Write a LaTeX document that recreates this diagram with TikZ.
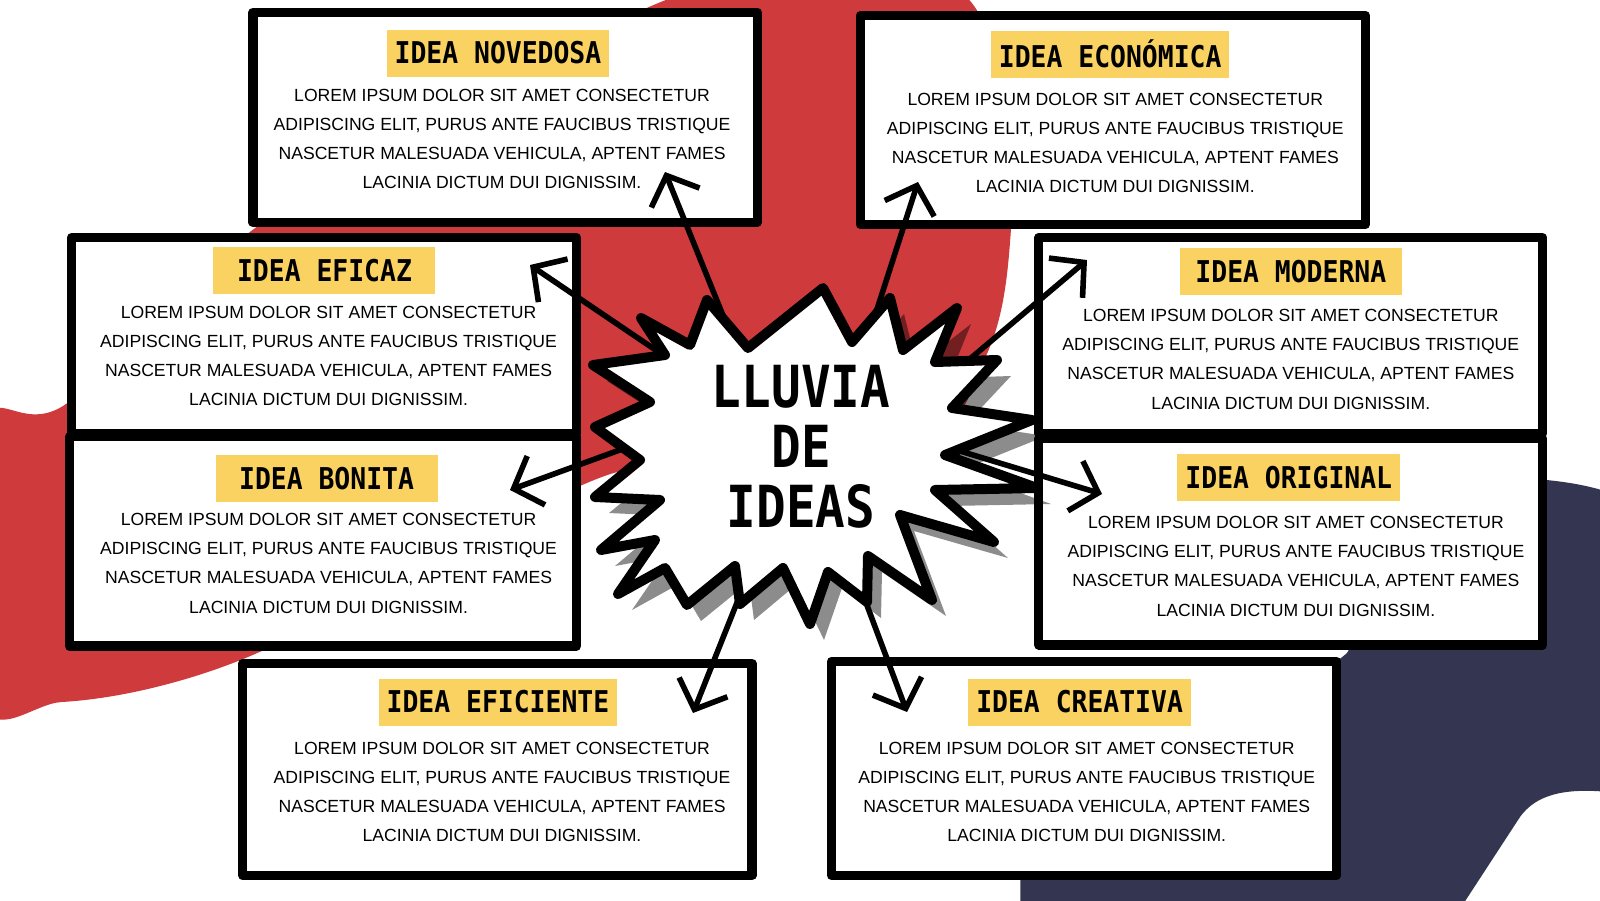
\documentclass[tikz,border=0pt]{standalone}
\usepackage{fontspec}
\setmainfont{Liberation Sans}
\newfontfamily\titlefont{DejaVu Sans Mono}[FakeStretch=0.88]
\newfontfamily\bigfont{DejaVu Sans Mono}[FakeStretch=0.85]
\usetikzlibrary{arrows.meta}
\definecolor{bgred}{HTML}{CF3A3C}
\definecolor{bgnavy}{HTML}{343550}
\definecolor{hl}{HTML}{F9D262}
\newcommand\lorembody{LOREM IPSUM DOLOR SIT AMET CONSECTETUR\\ADIPISCING ELIT, PURUS ANTE FAUCIBUS TRISTIQUE\\NASCETUR MALESUADA VEHICULA, APTENT FAMES\\LACINIA DICTUM DUI DIGNISSIM.}
\def\starlist{748/348, 823/288, 852/342, 890/298, 903/350, 957/308, 935/362, 997/360, 952/408, 1032/420, 945/455, 1037/488, 935/490, 994/542, 900/515, 932/600, 868/556, 867/602, 828/572, 810/624, 783/568, 740/604, 735/566, 687/605, 665/568, 618/594, 655/540, 601/550, 660/500, 595/497, 640/460, 595/427, 650/402, 593/365, 665/355, 641/318, 690/345}
\tikzset{
  ideabox/.style={draw=black, line width=4.6pt, fill=white, line join=round},
  titlehl/.style={fill=hl, minimum width=111pt, minimum height=23.5pt, inner xsep=4pt, inner ysep=0pt, font=\titlefont\bfseries\fontsize{15}{18}\selectfont, text=black},
  bodytext/.style={align=center, font=\fontsize{8.8}{14.6}\selectfont, text=black, inner sep=0pt},
  arrowline/.style={line width=2.8pt, line cap=round, -{Straight Barb[length=12pt,width=26pt,line width=2.8pt]}},
  starline/.style={draw=black, line width=5pt, fill=white, line join=round},
  starshadow/.style={fill=black, opacity=0.45},
  bigtext/.style={align=center, font=\bigfont\bfseries\fontsize{29}{30}\selectfont, text=black}
}
\begin{document}
\begin{tikzpicture}[x=0.5102pt, y=-0.5102pt]
\useasboundingbox (0,0) rectangle (1568,882);
\fill[white] (0,0) rectangle (1568,882);
% background shapes
\fill[bgred] plot[smooth cycle, tension=0.6] coordinates {(700,-15) (930,-15) (985,120) (990,235) (968,345) (900,440) (700,470) (640,458) (560,480) (350,590) (245,643) (150,674) (60,688) (-20,684) (-20,420) (66,395) (252,222) (480,90)};
\fill[bgnavy] (1000,895) -- (1000,862) .. controls (1100,760) and (1250,700) .. (1320,640) -- (1420,470) .. controls (1480,465) and (1540,470) .. (1575,482) -- (1575,776) .. controls (1530,772) and (1505,780) .. (1490,800) -- (1428,895) -- cycle;
% boxes
\draw[ideabox] (248,12) rectangle (742,218);
\draw[ideabox] (843,15) rectangle (1338,220);
\draw[ideabox] (70,233) rectangle (565,425);
\draw[ideabox] (1018,233) rectangle (1512,425);
\draw[ideabox] (68,428) rectangle (565,633);
\draw[ideabox] (1018,430) rectangle (1512,632);
\draw[ideabox] (238,650) rectangle (737,858);
\draw[ideabox] (815,648) rectangle (1310,858);
% titles
\node[titlehl] (h1) at (488,52) {IDEA NOVEDOSA};
\node[titlehl] (h2) at (1088,53) {IDEA ECONÓMICA};
\node[titlehl] (h3) at (318,265) {IDEA EFICAZ};
\node[titlehl] (h4) at (1265,266) {IDEA MODERNA};
\node[titlehl] (h5) at (320,469) {IDEA BONITA};
\node[titlehl] (h6) at (1263,468) {IDEA ORIGINAL};
\node[titlehl] (h7) at (488,688) {IDEA EFICIENTE};
\node[titlehl] (h8) at (1058,688) {IDEA CREATIVA};
% bodies
\node[bodytext] (p1) at (492,136) {\lorembody};
\node[bodytext] (p2) at (1093,140) {\lorembody};
\node[bodytext] (p3) at (322,349) {\lorembody};
\node[bodytext] (p4) at (1265,352) {\lorembody};
\node[bodytext] (p5) at (322,552) {\lorembody};
\node[bodytext] (p6) at (1270,555) {\lorembody};
\node[bodytext] (p7) at (492,776) {\lorembody};
\node[bodytext] (p8) at (1065,776) {\lorembody};
\begin{scope}[scale=0.98]
  % shadow
  \begin{scope}[shift={(14,16)}]
    \fill[starshadow] (707,300) \foreach \x/\y in \starlist {-- (\x,\y)} -- cycle;
  \end{scope}
  % arrows
  \coordinate (s1) at (745,370); \coordinate (t1) at (665,172);
  \coordinate (s2) at (861,359); \coordinate (t2) at (918,182);
  \coordinate (s3) at (700,380); \coordinate (t3) at (530,265);
  \coordinate (s4) at (945,380); \coordinate (t4) at (1087,260);
  \coordinate (s5) at (680,428); \coordinate (t5) at (510,490);
  \coordinate (s6) at (940,445); \coordinate (t6) at (1102,494);
  \coordinate (s7) at (760,545); \coordinate (t7) at (693,713);
  \coordinate (s8) at (850,560); \coordinate (t8) at (907,712);
  \foreach \i in {1,...,8} { \draw[arrowline] (s\i) -- (t\i); }
  % star
  \draw[starline] (707,300) \foreach \x/\y in \starlist {-- (\x,\y)} -- cycle;
  \node[bigtext] (center) at (801,447) {LLUVIA\\DE\\IDEAS};
\end{scope}
\end{tikzpicture}
\end{document}
